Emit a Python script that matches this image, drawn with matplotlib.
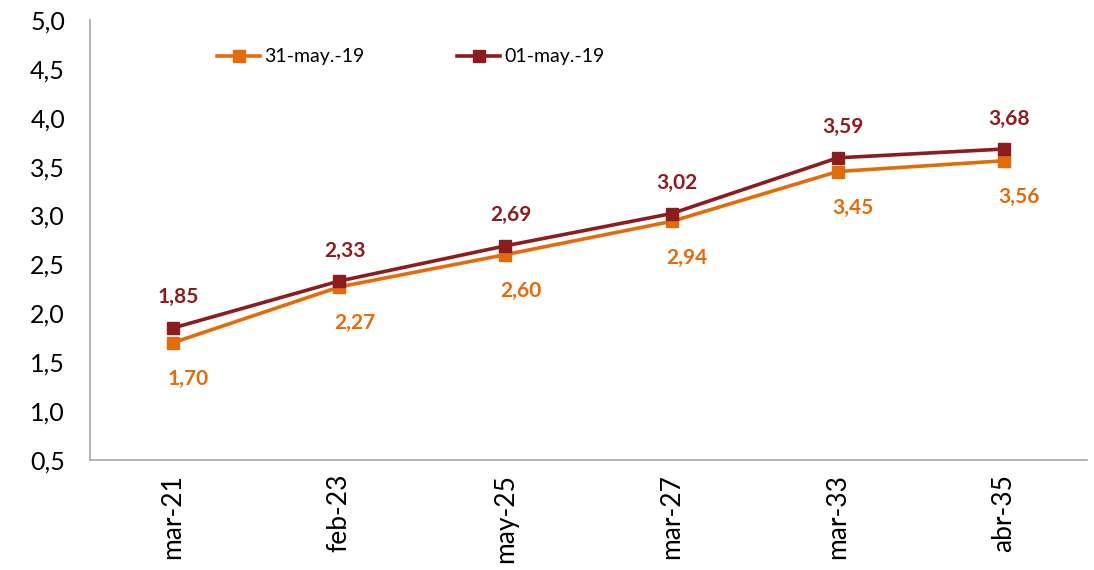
import matplotlib
matplotlib.use("Agg")
import matplotlib.pyplot as plt

# datos de la curva
categorias = ["mar-21", "feb-23", "may-25", "mar-27", "mar-33", "abr-35"]
serie_31may = [1.70, 2.27, 2.60, 2.94, 3.45, 3.56]
serie_01may = [1.85, 2.33, 2.69, 3.02, 3.59, 3.68]
nombres = ["31-may.-19", "01-may.-19"]

naranja = "#E36C0A"
granate = "#8B1D1F"

plt.rcParams['font.family'] = ['Lato', 'DejaVu Sans']

def coma(v, dec=2):
	return f"{v:.{dec}f}".replace(".", ",")

fig = plt.figure(figsize=(10.94, 5.70), dpi=100)
ax = fig.add_axes([0.0823, 0.193, 0.9113, 0.772])

x = list(range(len(categorias)))
ax.plot(x, serie_31may, color=naranja, lw=2.6, marker="s", ms=9, label=nombres[0])
ax.plot(x, serie_01may, color=granate, lw=2.6, marker="s", ms=9, label=nombres[1])

for i, v in enumerate(serie_31may):
	ax.annotate(coma(v), (i, v), xytext=(11, -26), textcoords="offset points",
		ha="center", va="center", color=naranja, fontsize=15, fontweight="bold")
for i, v in enumerate(serie_01may):
	ax.annotate(coma(v), (i, v), xytext=(4, 22), textcoords="offset points",
		ha="center", va="center", color=granate, fontsize=15, fontweight="bold")

ax.set_xlim(-0.5, len(categorias) - 0.5)
ax.set_ylim(0.5, 5.0)
yt = [0.5 + 0.5 * k for k in range(10)]
ax.set_yticks(yt)
ax.set_yticklabels([coma(t, 1) for t in yt], fontsize=18)
ax.set_xticks(x)
ax.set_xticklabels(categorias, rotation=90, fontsize=19)
ax.tick_params(length=0, pad=10)
ax.tick_params(axis="y", pad=18)

for s in ["top", "right"]:
	ax.spines[s].set_visible(False)
for s in ["left", "bottom"]:
	ax.spines[s].set_color("#A6A6A6")
	ax.spines[s].set_linewidth(1.2)

ax.legend(loc="upper left", bbox_to_anchor=(0.11, 0.975), ncol=2, frameon=False,
	fontsize=14, handlelength=2.2, columnspacing=4.8, handletextpad=0.2)

fig.savefig("out.png", dpi=100)
